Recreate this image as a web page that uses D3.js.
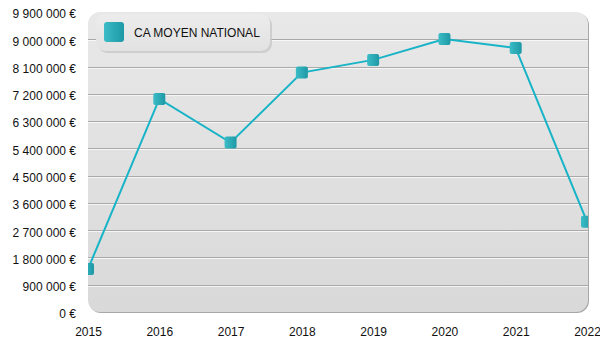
<!DOCTYPE html>
<html>
<head>
<meta charset="utf-8">
<script src="https://cdn.jsdelivr.net/npm/d3@7/dist/d3.min.js"></script>
<style>
  html, body { margin: 0; padding: 0; background: #fff; }
  svg { display: block; font-family: "Liberation Sans", Arial, sans-serif; }
</style>
</head>
<body>
<svg id="chart" width="600" height="350"></svg>
<script>
// Chiffre d'affaires moyen national par année
const years = ["2015", "2016", "2017", "2018", "2019", "2020", "2021", "2022"];
const caMoyen = [1420000, 7030000, 5590000, 7900000, 8320000, 9010000, 8710000, 2980000];
const yTicks = [0, 900000, 1800000, 2700000, 3600000, 4500000, 5400000, 6300000, 7200000, 8100000, 9000000, 9900000];
const seriesName = "CA MOYEN NATIONAL";

const svg = d3.select("#chart");
const plot = { left: 88, right: 588, top: 12, bottom: 312 };

const x = d3.scalePoint().domain(years).range([plot.left, plot.right - 1]);
const y = d3.scaleLinear().domain([0, 9900000]).range([plot.bottom, plot.top]);

const fmt = v => d3.format(",")(v).replace(/,/g, " ") + " €";

const defs = svg.append("defs");
const bg = defs.append("linearGradient").attr("id", "bg").attr("x1", 0).attr("y1", 0).attr("x2", 0).attr("y2", 1);
bg.append("stop").attr("offset", "0%").attr("stop-color", "#e8e8e8");
bg.append("stop").attr("offset", "100%").attr("stop-color", "#d9d9d9");

const mk = defs.append("linearGradient").attr("id", "mk").attr("x1", 0).attr("y1", 0).attr("x2", 1).attr("y2", 0);
mk.append("stop").attr("offset", "0%").attr("stop-color", "#3bbcc6");
mk.append("stop").attr("offset", "100%").attr("stop-color", "#1d99a5");

const lg = defs.append("linearGradient").attr("id", "lg").attr("x1", 0).attr("y1", 0).attr("x2", 0).attr("y2", 1);
lg.append("stop").attr("offset", "0%").attr("stop-color", "#ececec");
lg.append("stop").attr("offset", "100%").attr("stop-color", "#e2e2e2");

defs.append("clipPath").attr("id", "clip")
  .append("rect")
  .attr("x", plot.left).attr("y", plot.top)
  .attr("width", plot.right - plot.left).attr("height", plot.bottom - plot.top)
  .attr("rx", 12);

// plot background with right/bottom edge shadow
svg.append("rect")
  .attr("x", plot.left + 1).attr("y", plot.top + 1)
  .attr("width", plot.right - plot.left).attr("height", plot.bottom - plot.top)
  .attr("rx", 12).attr("fill", "#a8a8a8");
svg.append("rect")
  .attr("x", plot.left).attr("y", plot.top)
  .attr("width", plot.right - plot.left).attr("height", plot.bottom - plot.top)
  .attr("rx", 12).attr("fill", "url(#bg)");

// grid lines (embossed: grey line over a white line)
const grid = svg.append("g").attr("clip-path", "url(#clip)");
yTicks.filter(t => t > 0 && t < 9900000).forEach(t => {
  const yy = Math.round(y(t));
  grid.append("line").attr("x1", plot.left).attr("x2", plot.right)
    .attr("y1", yy + 1.5).attr("y2", yy + 1.5).attr("stroke", "#f6f6f6").attr("stroke-width", 1);
  grid.append("line").attr("x1", plot.left).attr("x2", plot.right)
    .attr("y1", yy + 0.5).attr("y2", yy + 0.5).attr("stroke", "#a9a9a9").attr("stroke-width", 1);
});

// y axis labels
const yAxis = d3.axisLeft(y).tickValues(yTicks).tickFormat(fmt).tickSize(0).tickPadding(0);
const ya = svg.append("g").attr("transform", `translate(${plot.left - 12},2)`).call(yAxis);
ya.select(".domain").remove();
ya.selectAll("text").attr("font-size", 12).attr("fill", "#111")
  .attr("font-family", "'Liberation Sans', Arial, sans-serif");

// x axis labels
const xAxis = d3.axisBottom(x).tickSize(0).tickPadding(0);
const xa = svg.append("g").attr("transform", `translate(0,${plot.bottom + 15.5})`).call(xAxis);
xa.select(".domain").remove();
xa.selectAll("text").attr("font-size", 12).attr("fill", "#111")
  .attr("font-family", "'Liberation Sans', Arial, sans-serif");

// series line and markers
const data = years.map((yr, i) => ({ yr, v: caMoyen[i] }));
const series = svg.append("g").attr("clip-path", "url(#clip)");
series.append("path")
  .datum(data)
  .attr("fill", "none")
  .attr("stroke", "#17b3c6")
  .attr("stroke-width", 2)
  .attr("d", d3.line().x(d => x(d.yr)).y(d => y(d.v)));
series.selectAll("rect.pt").data(data).join("rect")
  .attr("class", "pt")
  .attr("x", d => x(d.yr) - 6).attr("y", d => y(d.v) - 6)
  .attr("width", 12).attr("height", 12).attr("rx", 2)
  .attr("fill", "url(#mk)");

// legend
const leg = svg.append("g");
leg.append("rect").attr("x", 98).attr("y", 16).attr("width", 174).attr("height", 37)
  .attr("rx", 9).attr("fill", "#c8c8c8").attr("opacity", 0.8);
leg.append("rect").attr("x", 96).attr("y", 14).attr("width", 174).attr("height", 37)
  .attr("rx", 9).attr("fill", "url(#lg)");
leg.append("rect").attr("x", 104).attr("y", 22).attr("width", 20).attr("height", 20)
  .attr("rx", 3).attr("fill", "url(#mk)");
leg.append("text").attr("x", 134).attr("y", 37).attr("font-size", 12).attr("fill", "#111")
  .text(seriesName);
</script>
</body>
</html>
